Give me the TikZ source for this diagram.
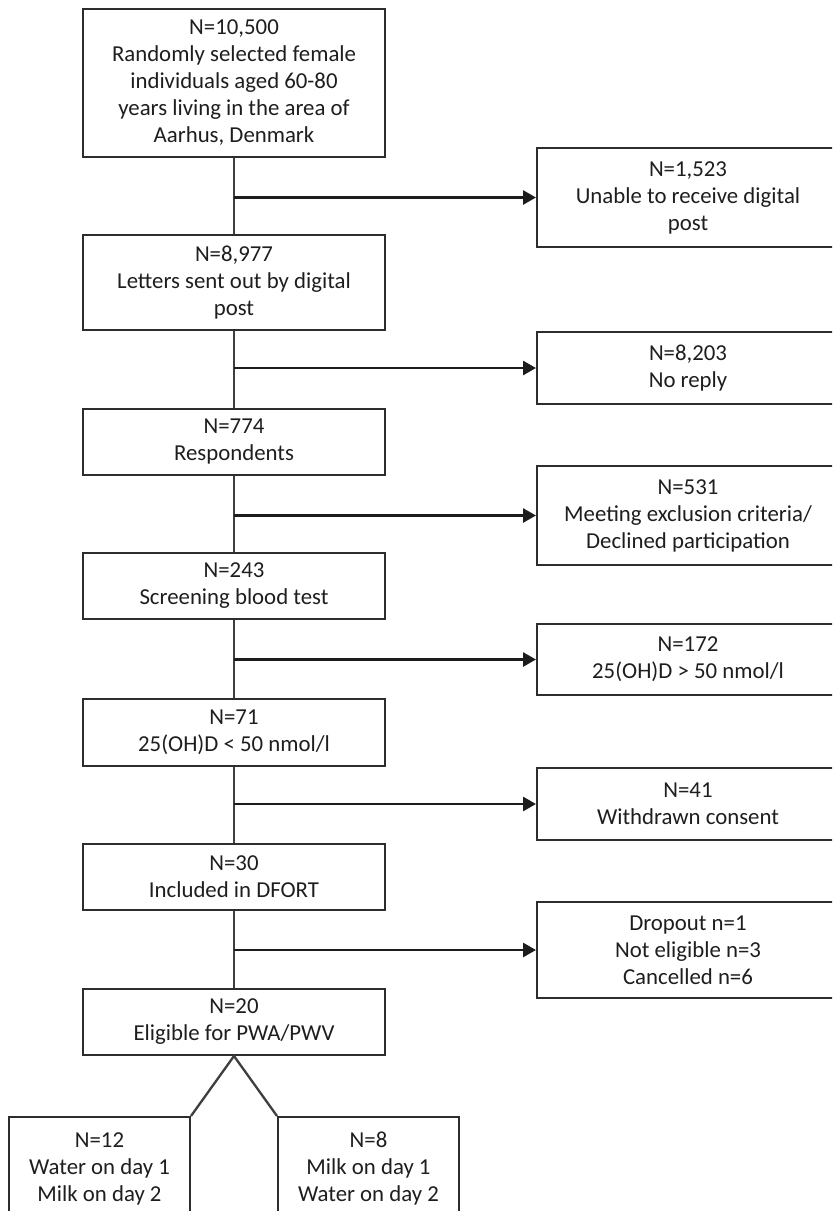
\documentclass[tikz,border=0pt]{standalone}
\usepackage{fontspec}
\setmainfont{Carlito}
\usetikzlibrary{arrows.meta}
\definecolor{boxline}{RGB}{45,45,45}
\definecolor{stemgray}{RGB}{62,62,62}
\definecolor{arrowblack}{RGB}{28,28,28}
\definecolor{textgray}{RGB}{30,30,30}

\begin{document}
\begin{tikzpicture}[x=.5pt,y=-.5pt,
		box/.style={draw=boxline,line width=1pt,align=center,inner sep=0pt,text=textgray,font=\fontsize{11.4}{13.5}\selectfont},
		mainbox/.style={box,minimum width=151pt},
		armbox/.style={box,minimum width=90.5pt,minimum height=52pt},
		stem/.style={draw=stemgray,line width=1.15pt},
		exclude/.style={draw=arrowblack,line width=1.35pt,-{Triangle[length=6.5pt,width=7pt]}}]
		\clip (0,0) rectangle (832,1211);
		\fill[white] (0,0) rectangle (832,1211);
		% main column
		\node[mainbox,minimum height=74pt] (all) at (234,83) {N=10,500\\Randomly selected female\\individuals aged 60-80\\years living in the area of\\Aarhus, Denmark};
		\node[mainbox,minimum height=47.5pt] (sent) at (234,282.5) {N=8,977\\Letters sent out by digital\\post};
		\node[mainbox,minimum height=33pt] (resp) at (234,442) {N=774\\Respondents};
		\node[mainbox,minimum height=33pt] (screen) at (234,586) {N=243\\Screening blood test};
		\node[mainbox,minimum height=33.5pt] (low) at (234,732.5) {N=71\\25(OH)D < 50 nmol/l};
		\node[mainbox,minimum height=33pt] (incl) at (234,877) {N=30\\Included in DFORT};
		\node[mainbox,minimum height=33pt] (elig) at (234,1022) {N=20\\Eligible for PWA/PWV};
		% exclusions
		\node[mainbox,minimum height=49.5pt] (nodig) at (688,197.5) {N=1,523\\Unable to receive digital\\post};
		\node[mainbox,minimum height=36pt] (noreply) at (688,368) {N=8,203\\No reply};
		\node[mainbox,minimum height=49.5pt] (excl) at (688,515.5) {N=531\\Meeting exclusion criteria/\\Declined participation};
		\node[mainbox,minimum height=35.5pt] (high) at (688,659.5) {N=172\\25(OH)D > 50 nmol/l};
		\node[mainbox,minimum height=36pt] (withdr) at (688,804) {N=41\\Withdrawn consent};
		\node[mainbox,minimum height=48pt] (drop) at (688,950) {Dropout n=1\\Not eligible n=3\\Cancelled n=6};
		% arms
		\node[armbox] (water) at (99.5,1169) {N=12\\Water on day 1\\Milk on day 2};
		\node[armbox] (milk) at (368.5,1169) {N=8\\Milk on day 1\\Water on day 2};
		\draw[stem] (all)--(sent) (sent)--(resp) (resp)--(screen) (screen)--(low) (low)--(incl) (incl)--(elig);
		\foreach \a/\r in {all/nodig,sent/noreply,resp/excl,screen/high,low/withdr,incl/drop} \draw[exclude] (\a.south |- \r.west)--(\r.west);
		\draw[stem,line join=miter] (water.north east)--(elig.south)--(milk.north west);
	\end{tikzpicture}
\end{document}
